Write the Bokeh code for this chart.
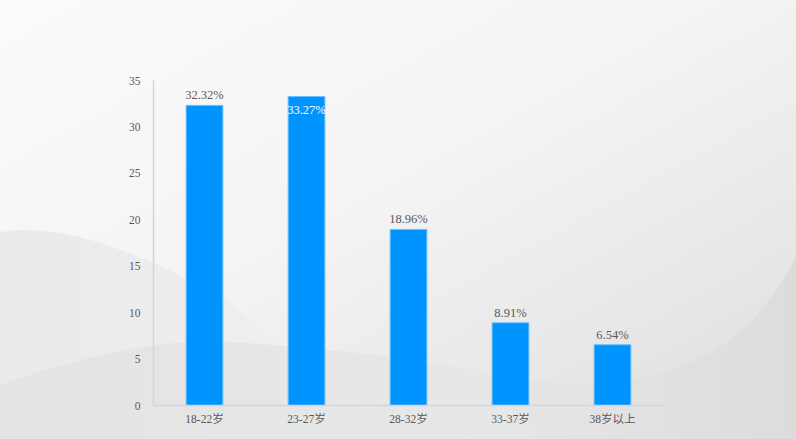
import urllib.parse
from bokeh.plotting import figure
from bokeh.models import ColumnDataSource, FactorRange, Range1d, FixedTicker, GlobalInlineStyleSheet
from bokeh.core.properties import value
from bokeh.embed import file_html
from bokeh.resources import INLINE

# ---- data ----
categories = ["18-22岁", "23-27岁", "28-32岁", "33-37岁", "38岁以上"]
shares = [32.32, 33.27, 18.96, 8.91, 6.54]
y_ticks = [0, 5, 10, 15, 20, 25, 30, 35]

labels = [f"{v:.2f}%" for v in shares]
inside = [v == max(shares) for v in shares]
label_colors = ["#FFFFFF" if i else "#5A5A5A" for i in inside]
label_offsets = [13 if i else -10 for i in inside]

source = ColumnDataSource(dict(cat=categories, val=shares, lab=labels,
                               col=label_colors, off=label_offsets))

# ---- decorative page background (gray gradient with soft waves) ----
svg = """<svg xmlns='http://www.w3.org/2000/svg' width='796' height='439' viewBox='0 0 796 439' preserveAspectRatio='none'>
<defs>
<linearGradient id='g' x1='0' y1='0' x2='1' y2='1'>
<stop offset='0' stop-color='#FBFBFB'/>
<stop offset='0.45' stop-color='#F4F4F4'/>
<stop offset='0.8' stop-color='#E6E6E6'/>
<stop offset='1' stop-color='#DADADA'/>
</linearGradient>
<linearGradient id='w1' x1='0' y1='0' x2='1' y2='0'>
<stop offset='0' stop-color='#EAEAEA'/>
<stop offset='1' stop-color='#F0F0F0'/>
</linearGradient>
<linearGradient id='w2' x1='0' y1='0' x2='1' y2='0'>
<stop offset='0' stop-color='#E4E4E4'/>
<stop offset='0.6' stop-color='#E7E7E7'/>
<stop offset='1' stop-color='#DCDCDC'/>
</linearGradient>
</defs>
<rect x='0' y='0' width='796' height='439' fill='url(#g)'/>
<path d='M0,232 C60,222 130,250 200,285 C260,318 320,380 360,439 L0,439 Z' fill='url(#w1)'/>
<path d='M0,385 C80,356 160,338 230,342 C330,348 430,360 520,378 C600,392 680,382 740,332 C770,305 788,275 796,255 L796,439 L0,439 Z' fill='url(#w2)'/>
</svg>"""
bg_url = "data:image/svg+xml;charset=utf-8," + urllib.parse.quote(svg)
css = GlobalInlineStyleSheet(css=f"""
html {{ background: url("{bg_url}") no-repeat fixed; background-size: 100% 100%; }}
body {{ background: transparent; }}
""")

# ---- figure ----
p = figure(x_range=FactorRange(*categories, range_padding=0),
           y_range=Range1d(0, 35),
           width=790, height=433,
           output_backend="svg", toolbar_location=None,
           min_border_left=153, min_border_right=127,
           min_border_top=80, min_border_bottom=28)
p.stylesheets = [css]
p.background_fill_alpha = 0
p.border_fill_alpha = 0
p.outline_line_color = None
p.grid.grid_line_color = None

p.vbar(x="cat", top="val", width=0.36, source=source,
       fill_color="#0094FF", line_color="#6BBEFF", line_width=1)

p.text(x="cat", y="val", text="lab", source=source,
       text_color="col", y_offset="off",
       text_font=value("Liberation Serif"), text_font_size="12.5px",
       text_align="center", text_baseline="alphabetic")

num_font = "'Liberation Serif', 'Noto Sans CJK SC'"
for ax in (p.xaxis[0], p.yaxis[0]):
    ax.axis_line_color = "#CFD5E2"
    ax.axis_line_width = 1.5
    ax.major_tick_line_color = None
    ax.minor_tick_line_color = None
    ax.major_tick_out = 0
    ax.major_tick_in = 0
    ax.major_label_text_font = num_font
    ax.major_label_text_font_size = "11.5px"
    ax.major_label_text_color = "#595959"

p.yaxis.ticker = FixedTicker(ticks=y_ticks)
p.yaxis.major_label_standoff = 13
p.xaxis.major_label_standoff = 7

open("out.html", "w").write(file_html(p, INLINE))
